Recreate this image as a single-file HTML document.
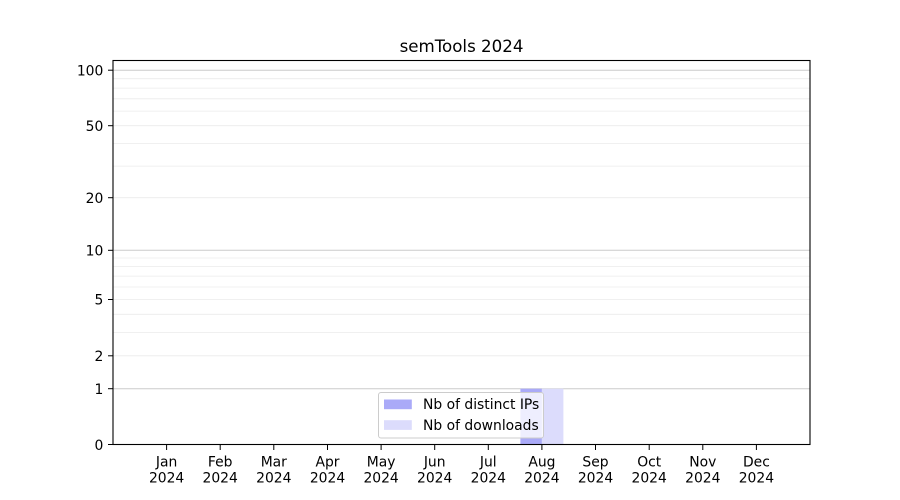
<!DOCTYPE html>
<html><head><meta charset="utf-8"><style>
html,body{margin:0;padding:0;background:#fff;}
svg{display:block;font-family:"DejaVu Sans","Liberation Sans",sans-serif;}
</style></head><body>
<svg width="900" height="500" viewBox="0 0 900 500" xmlns="http://www.w3.org/2000/svg">
<rect width="900" height="500" fill="#fff"/>
<!-- minor gridlines -->
<g stroke="#ebebeb" stroke-width="0.8">
<line x1="113" x2="810" y1="355.8" y2="355.8"/>
<line x1="113" x2="810" y1="332.4" y2="332.4"/>
<line x1="113" x2="810" y1="314.3" y2="314.3"/>
<line x1="113" x2="810" y1="299.5" y2="299.5"/>
<line x1="113" x2="810" y1="287.0" y2="287.0"/>
<line x1="113" x2="810" y1="276.1" y2="276.1"/>
<line x1="113" x2="810" y1="266.6" y2="266.6"/>
<line x1="113" x2="810" y1="258.0" y2="258.0"/>
<line x1="113" x2="810" y1="197.7" y2="197.7"/>
<line x1="113" x2="810" y1="166.1" y2="166.1"/>
<line x1="113" x2="810" y1="143.4" y2="143.4"/>
<line x1="113" x2="810" y1="125.7" y2="125.7"/>
<line x1="113" x2="810" y1="111.1" y2="111.1"/>
<line x1="113" x2="810" y1="98.8" y2="98.8"/>
<line x1="113" x2="810" y1="88.1" y2="88.1"/>
<line x1="113" x2="810" y1="78.7" y2="78.7"/>
</g>
<!-- major gridlines -->
<g stroke="#cccccc" stroke-width="1">
<line x1="113" x2="810" y1="388.7" y2="388.7"/>
<line x1="113" x2="810" y1="250.3" y2="250.3"/>
<line x1="113" x2="810" y1="70.2" y2="70.2"/>
</g>
<!-- bars -->
<rect x="520.4" y="388.7" width="21.5" height="56.3" fill="#aaaaf8"/>
<rect x="541.9" y="388.7" width="21.5" height="56.3" fill="#dcdcfc"/>
<!-- axes frame -->
<rect x="113" y="60.5" width="697" height="384" fill="none" stroke="#000" stroke-width="1.1"/>
<!-- y ticks -->
<g stroke="#000" stroke-width="1">
<line x1="108" x2="113" y1="444.5" y2="444.5"/>
<line x1="108" x2="113" y1="388.7" y2="388.7"/>
<line x1="108" x2="113" y1="355.8" y2="355.8"/>
<line x1="108" x2="113" y1="299.5" y2="299.5"/>
<line x1="108" x2="113" y1="250.3" y2="250.3"/>
<line x1="108" x2="113" y1="197.7" y2="197.7"/>
<line x1="108" x2="113" y1="125.7" y2="125.7"/>
<line x1="108" x2="113" y1="70.2" y2="70.2"/>
</g>
<g font-size="13.89" text-anchor="end" fill="#000">
<text x="103.3" y="449.8">0</text>
<text x="103.3" y="393.8">1</text>
<text x="103.3" y="360.9">2</text>
<text x="103.3" y="304.6">5</text>
<text x="103.3" y="255.4">10</text>
<text x="103.3" y="202.8">20</text>
<text x="103.3" y="130.8">50</text>
<text x="103.3" y="75.3">100</text>
</g>
<!-- x ticks -->
<g stroke="#000" stroke-width="1">
<line x1="166.6" x2="166.6" y1="445" y2="450"/>
<line x1="220.2" x2="220.2" y1="445" y2="450"/>
<line x1="273.8" x2="273.8" y1="445" y2="450"/>
<line x1="327.5" x2="327.5" y1="445" y2="450"/>
<line x1="381.1" x2="381.1" y1="445" y2="450"/>
<line x1="434.7" x2="434.7" y1="445" y2="450"/>
<line x1="488.3" x2="488.3" y1="445" y2="450"/>
<line x1="541.9" x2="541.9" y1="445" y2="450"/>
<line x1="595.5" x2="595.5" y1="445" y2="450"/>
<line x1="649.2" x2="649.2" y1="445" y2="450"/>
<line x1="702.8" x2="702.8" y1="445" y2="450"/>
<line x1="756.4" x2="756.4" y1="445" y2="450"/>
</g>
<g font-size="13.89" text-anchor="middle" fill="#000">
<text x="166.6" y="466.5">Jan</text><text x="166.6" y="482.7">2024</text>
<text x="220.2" y="466.5">Feb</text><text x="220.2" y="482.7">2024</text>
<text x="273.8" y="466.5">Mar</text><text x="273.8" y="482.7">2024</text>
<text x="327.5" y="466.5">Apr</text><text x="327.5" y="482.7">2024</text>
<text x="381.1" y="466.5">May</text><text x="381.1" y="482.7">2024</text>
<text x="434.7" y="466.5">Jun</text><text x="434.7" y="482.7">2024</text>
<text x="488.3" y="466.5">Jul</text><text x="488.3" y="482.7">2024</text>
<text x="541.9" y="466.5">Aug</text><text x="541.9" y="482.7">2024</text>
<text x="595.5" y="466.5">Sep</text><text x="595.5" y="482.7">2024</text>
<text x="649.2" y="466.5">Oct</text><text x="649.2" y="482.7">2024</text>
<text x="702.8" y="466.5">Nov</text><text x="702.8" y="482.7">2024</text>
<text x="756.4" y="466.5">Dec</text><text x="756.4" y="482.7">2024</text>
</g>
<!-- title -->
<text x="461.5" y="52" font-size="16.67" text-anchor="middle" fill="#000">semTools 2024</text>
<!-- legend -->
<rect x="378.5" y="392.5" width="165" height="45.5" rx="2.5" ry="2.5" fill="#fff" fill-opacity="0.8" stroke="#cccccc" stroke-width="1"/>
<rect x="384" y="399.5" width="27.8" height="9.7" fill="#aaaaf8"/>
<rect x="384" y="420.2" width="27.8" height="9.7" fill="#dcdcfc"/>
<g font-size="13.89" fill="#000">
<text x="423" y="409.2">Nb of distinct IPs</text>
<text x="423" y="430">Nb of downloads</text>
</g>
</svg>
</body></html>
